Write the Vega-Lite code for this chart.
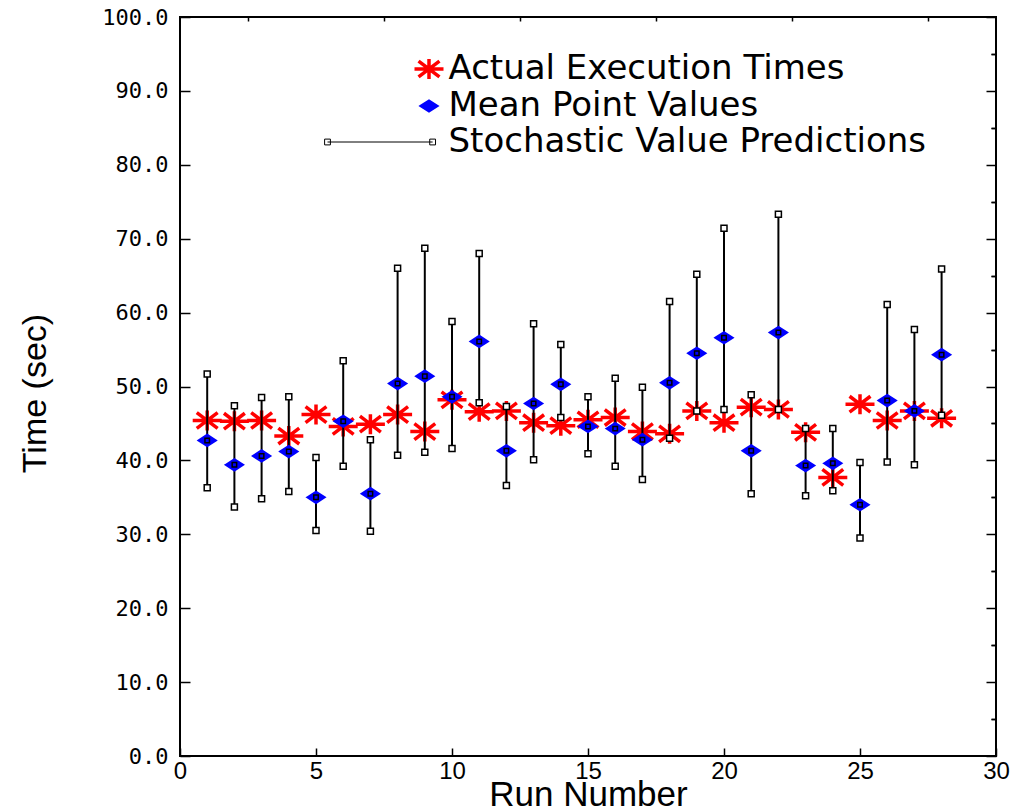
{
  "$schema": "https://vega.github.io/schema/vega-lite/v6.json",
  "width": 816,
  "height": 739,
  "autosize": {"type": "none"},
  "padding": {"left": 180, "top": 17, "right": 21, "bottom": 56},
  "background": "white",
  "config": {
    "view": {"stroke": "black", "strokeWidth": 2},
    "axis": {"grid": false, "domain": false, "tickColor": "black", "tickWidth": 1.5, "labelColor": "black", "titleColor": "black", "labelFont": "Liberation Sans", "titleFont": "Liberation Sans", "titleFontWeight": "normal"}
  },
  "data": {
    "values": [
      {"run": 1, "actual": 45.4, "mean": 42.7, "lo": 36.3, "hi": 51.7},
      {"run": 2, "actual": 45.3, "mean": 39.4, "lo": 33.7, "hi": 47.4},
      {"run": 3, "actual": 45.4, "mean": 40.6, "lo": 34.8, "hi": 48.5},
      {"run": 4, "actual": 43.3, "mean": 41.2, "lo": 35.8, "hi": 48.6},
      {"run": 5, "actual": 46.2, "mean": 35.0, "lo": 30.5, "hi": 40.4},
      {"run": 6, "actual": 44.6, "mean": 45.3, "lo": 39.2, "hi": 53.5},
      {"run": 7, "actual": 44.9, "mean": 35.5, "lo": 30.4, "hi": 42.8},
      {"run": 8, "actual": 46.2, "mean": 50.4, "lo": 40.7, "hi": 66.0},
      {"run": 9, "actual": 43.9, "mean": 51.4, "lo": 41.1, "hi": 68.7},
      {"run": 10, "actual": 48.2, "mean": 48.6, "lo": 41.6, "hi": 58.8},
      {"run": 11, "actual": 46.6, "mean": 56.1, "lo": 47.8, "hi": 68.0},
      {"run": 12, "actual": 46.7, "mean": 41.3, "lo": 36.6, "hi": 47.3},
      {"run": 13, "actual": 45.1, "mean": 47.7, "lo": 40.1, "hi": 58.5},
      {"run": 14, "actual": 44.7, "mean": 50.3, "lo": 45.8, "hi": 55.7},
      {"run": 15, "actual": 45.5, "mean": 44.6, "lo": 40.9, "hi": 48.6},
      {"run": 16, "actual": 45.8, "mean": 44.3, "lo": 39.2, "hi": 51.1},
      {"run": 17, "actual": 43.9, "mean": 42.8, "lo": 37.4, "hi": 49.9},
      {"run": 18, "actual": 43.6, "mean": 50.5, "lo": 43.0, "hi": 61.5},
      {"run": 19, "actual": 46.7, "mean": 54.5, "lo": 46.7, "hi": 65.2},
      {"run": 20, "actual": 45.1, "mean": 56.6, "lo": 46.9, "hi": 71.4},
      {"run": 21, "actual": 47.2, "mean": 41.3, "lo": 35.5, "hi": 48.9},
      {"run": 22, "actual": 46.9, "mean": 57.3, "lo": 46.9, "hi": 73.3},
      {"run": 23, "actual": 43.8, "mean": 39.3, "lo": 35.2, "hi": 44.3},
      {"run": 24, "actual": 37.7, "mean": 39.6, "lo": 35.9, "hi": 44.3},
      {"run": 25, "actual": 47.6, "mean": 34.0, "lo": 29.5, "hi": 39.7},
      {"run": 26, "actual": 45.4, "mean": 48.1, "lo": 39.8, "hi": 61.1},
      {"run": 27, "actual": 46.7, "mean": 46.7, "lo": 39.4, "hi": 57.7},
      {"run": 28, "actual": 45.7, "mean": 54.3, "lo": 46.1, "hi": 65.9}
    ]
  },
  "resolve": {"axis": {"x": "independent", "y": "independent"}},
  "layer": [
    {
      "transform": [{"fold": ["actual"], "as": ["series", "value"]}],
      "mark": {"type": "point", "size": 841, "opacity": 1},
      "encoding": {
        "x": {"field": "run", "type": "quantitative", "scale": {"domain": [0, 30], "nice": false, "zero": false},
          "axis": {"values": [0, 5, 10, 15, 20, 25, 30], "format": "d", "labelFontSize": 24, "tickSize": -8, "labelPadding": 11, "title": "Run Number", "titleFont": "Liberation Sans", "titleFontSize": 35, "titleX": 408, "titleY": 49, "titleBaseline": "alphabetic", "titleAlign": "center", "labelFlush": false}},
        "y": {"field": "value", "type": "quantitative", "scale": {"domain": [0, 100], "nice": false},
          "axis": {"values": [0, 10, 20, 30, 40, 50, 60, 70, 80, 90, 100], "format": ".1f", "labelFont": "DejaVu Sans Mono", "labelFontSize": 22, "tickSize": -10, "labelPadding": 22, "title": "Time (sec)", "titleFontSize": 34, "titleAngle": 270, "titleX": -145, "titleY": 376, "titleAlign": "center", "titleBaseline": "middle", "labelFlush": false}},
        "shape": {"field": "series", "type": "nominal",
          "scale": {"domain": ["actual", "mean", "stoch"], "range": ["M-1,0H1M0,-0.69V0.69M-0.72,-0.55L0.72,0.55M-0.72,0.55L0.72,-0.55", "M-0.586,0L0,-0.38L0.586,0L0,0.38Z", "M-7,0H0.25M-7.2,-0.2H-6.8V0.2H-7.2ZM0.05,-0.2H0.45V0.2H0.05Z"]},
          "legend": {"orient": "none", "legendX": 232, "legendY": 35, "title": null, "padding": 0, "labelFont": "DejaVu Sans", "labelFontSize": 34, "labelColor": "black", "labelOffset": 2.5, "labelLimit": 0, "rowPadding": 2, "symbolSize": 841,
            "labelExpr": "datum.value === 'actual' ? 'Actual Execution Times' : datum.value === 'mean' ? 'Mean Point Values' : 'Stochastic Value Predictions'"}},
        "stroke": {"field": "series", "type": "nominal", "scale": {"domain": ["actual", "mean", "stoch"], "range": ["#ff0000", "#0000ff", "#000000"]}},
        "fill": {"field": "series", "type": "nominal", "scale": {"domain": ["actual", "mean", "stoch"], "range": ["transparent", "#0000ff", "#ffffff"]}},
        "strokeWidth": {"field": "series", "type": "nominal", "scale": {"domain": ["actual", "mean", "stoch"], "range": [3.5, 1, 1.5]}}
      }
    },
    {
      "mark": {"type": "rule", "color": "black", "strokeWidth": 2},
      "encoding": {
        "x": {"field": "run", "type": "quantitative",
          "axis": {"values": [2.5, 7.5, 12.5, 17.5, 22.5, 27.5], "labels": false, "tickSize": -4, "title": null}},
        "y": {"field": "lo", "type": "quantitative",
          "axis": {"values": [5, 15, 25, 35, 45, 55, 65, 75, 85, 95], "labels": false, "tickSize": -5, "title": null}},
        "y2": {"field": "hi"}
      }
    },
    {
      "transform": [{"fold": ["mean"], "as": ["series", "value"]}],
      "mark": {"type": "point", "size": 841, "opacity": 1},
      "encoding": {
        "x": {"field": "run", "type": "quantitative", "axis": null},
        "y": {"field": "value", "type": "quantitative", "axis": null},
        "shape": {"field": "series", "type": "nominal"},
        "stroke": {"field": "series", "type": "nominal"},
        "fill": {"field": "series", "type": "nominal"},
        "strokeWidth": {"field": "series", "type": "nominal"}
      }
    },
    {
      "mark": {"type": "point", "shape": "square", "size": 36, "fill": "white", "stroke": "black", "strokeWidth": 1.5, "opacity": 1},
      "encoding": {
        "x": {"field": "run", "type": "quantitative", "axis": null},
        "y": {"field": "hi", "type": "quantitative",
          "axis": {"orient": "right", "values": [0, 10, 20, 30, 40, 50, 60, 70, 80, 90, 100], "labels": false, "tickSize": -10, "title": null}}
      }
    },
    {
      "mark": {"type": "point", "shape": "square", "size": 36, "fill": "white", "stroke": "black", "strokeWidth": 1.5, "opacity": 1},
      "encoding": {
        "x": {"field": "run", "type": "quantitative", "axis": null},
        "y": {"field": "lo", "type": "quantitative",
          "axis": {"orient": "right", "values": [5, 15, 25, 35, 45, 55, 65, 75, 85, 95], "labels": false, "tickSize": -5, "title": null}}
      }
    },
    {
      "mark": {"type": "point", "shape": "square", "size": 20, "fill": "#0000ff", "stroke": "black", "strokeWidth": 1.5, "opacity": 1},
      "encoding": {
        "x": {"field": "run", "type": "quantitative", "axis": null},
        "y": {"field": "mean", "type": "quantitative", "axis": null}
      }
    }
  ]
}
